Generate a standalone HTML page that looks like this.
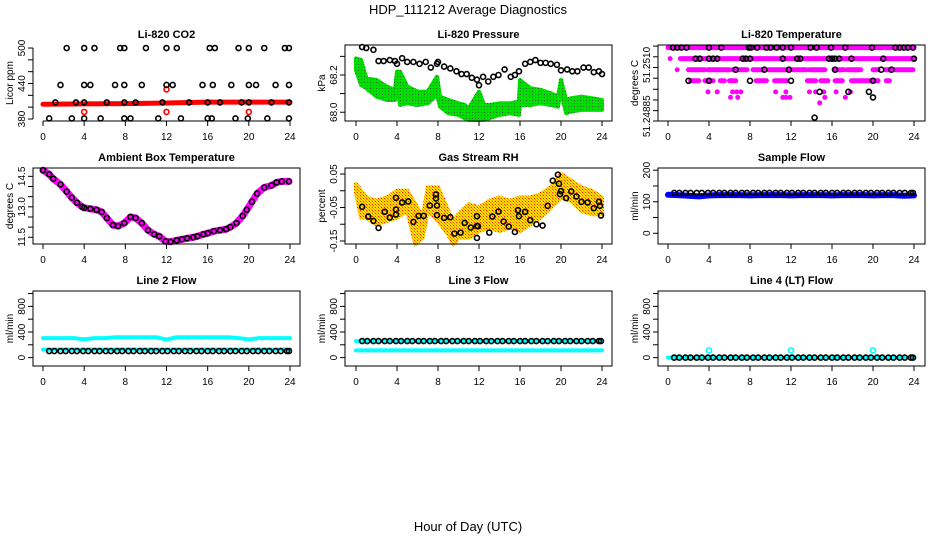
<!DOCTYPE html>
<html><head><meta charset="utf-8"><style>
html,body{margin:0;padding:0;background:#fff}
svg{display:block;font-family:"Liberation Sans",sans-serif}
</style></head><body>
<svg id="c" width="936" height="540" viewBox="0 0 936 540">
<defs>
<pattern id="gp" width="3" height="3" patternUnits="userSpaceOnUse"><rect width="3" height="3" fill="#00e000"/><rect x="1" y="1" width="1" height="1" fill="#306030"/></pattern>
<pattern id="op" width="3" height="3" patternUnits="userSpaceOnUse"><rect width="3" height="3" fill="#ffe000"/><rect width="1" height="1" fill="#ff2000"/><rect x="1" y="1" width="1" height="1" fill="#ff9000"/><rect x="2" y="2" width="1" height="1" fill="#ffa000"/></pattern>
</defs>
<text x="468" y="14" text-anchor="middle" font-size="13">HDP_111212  Average Diagnostics</text>
<text x="468" y="531" text-anchor="middle" font-size="13">Hour of Day (UTC)</text>
</svg>
<script>
// ---------- data ----------
const xTicks=[0,4,8,12,16,20,24];
// CO2
const co2RedH=[0,4,8,12,16,20,24];
const co2RedV=[405,405.5,406,407,408.5,408.5,408.5];
const co2OutH=[4,12,20,12];
const co2OutV=[392,392,392,430];
const co2H=[2.3,4,5,7.5,7.9,10,12,13,16.2,16.7,19,20,21.5,23.5,23.9,
 1.7,4,4.6,7,7.9,9.6,12,12.6,15.5,16.5,18.3,20,20.7,22.6,23.9,
 1.2,3.2,4,6.2,7.9,9,11.6,14.2,16,17.2,19.3,20,22.2,23.9,
 0.6,2.8,4,5.6,7.9,8.5,11.2,13.4,16,16.4,18.7,19.9,21.8,23.9];
const co2V=[500,500,500,500,500,500,500,500,500,500,500,500,500,500,500,
 437.5,437.5,437.5,437.5,437.5,437.5,437.5,437.5,437.5,437.5,437.5,437.5,437.5,437.5,437.5,
 408,408,408,408,408,408,408,408,408,408,408,408,408,408,
 381,381,381,381,381,381,381,381,381,381,381,381,381,381];
// Pressure
const presH=[0.6,1,1.7,2.2,2.7,3.3,3.8,4,4.5,5,5.6,6.2,6.8,7.3,7.9,8,8.6,9.2,9.8,10.3,10.8,11.3,11.8,12,12.4,12.9,13.4,13.9,14.5,15.1,15.5,15.9,16.5,17,17.5,18,18.5,19,19.6,20,20.6,21.1,21.6,22.2,22.7,23.2,23.7,24];
const presV=[68.35,68.345,68.335,68.275,68.275,68.28,68.275,68.26,68.29,68.27,68.27,68.26,68.27,68.24,68.26,68.27,68.245,68.235,68.22,68.205,68.205,68.185,68.175,68.145,68.19,68.165,68.19,68.2,68.23,68.19,68.2,68.22,68.26,68.27,68.28,68.265,68.265,68.26,68.255,68.225,68.23,68.22,68.22,68.24,68.24,68.215,68.22,68.205];
const presGH=[0,0.5,1,2,3,3.8,4,4.3,5,6,7,7.9,8.2,9,10,10.6,11,12,12.5,13,14,15,15.9,16,17,18,19,19.7,20,20.5,21,22,23,24];
const presGUp=[68.289,68.280,68.182,68.173,68.138,68.120,68.218,68.218,68.138,68.111,68.111,68.191,68.084,68.066,68.048,68.039,68.021,68.111,68.039,68.039,68.048,68.048,68.057,68.173,68.129,68.120,68.102,68.084,68.173,68.066,68.075,68.084,68.075,68.066];
const presGLo=[68.227,68.146,68.129,68.084,68.066,68.066,68.155,68.039,68.048,68.039,68.048,68.093,68.030,67.995,67.986,67.968,67.959,67.959,67.959,67.968,67.986,67.995,67.986,68.039,68.039,68.048,68.039,68.030,68.111,67.995,68.004,68.013,68.013,68.013];
// Li-820 temperature
const tLevels=[51.2512,51.2509,51.2506,51.2503,51.2500,51.24985,51.2497,51.2493];
const tTicks=[51.25124,51.25095,51.25066,51.25037,51.25007,51.24978,51.24949,51.24921];
const tLabV=[51.25073,51.24934];
const tLabT=["51.2510","51.24885"];
const tMagStart=[[0],[0.2,1.2],[0.9,2,3.9,6.3,8.3,9.8,12.2,13.8,16.2,17.5,20,21.2],[2.2,3.6,5.1,6,8.6,10.4,13.6,14.9,16.3,17.9,21.3],[3.9,4.8,6.3,6.7,7.1,10.5,11.5,13.8,14.4,15.2,16.4,17.8],[6.1,6.8,11.2,11.5,11.9,15.3,17.3],[14.8],[]];
const tMagEnd=[[24],[0.2,24],[0.9,3.6,6,7.7,9.3,11.9,13.5,15.3,17.2,18.8,20.5,23.9],[3,4.4,5.5,6.6,9.6,11.6,14.4,15.6,17,20.5,21.6],[3.9,4.8,6.3,6.7,7.1,10.5,11.5,13.8,14.4,15.2,16.4,17.8],[6.1,6.8,11.2,11.5,11.9,15.3,17.3],[14.8],[]];
const tBlkH=[[0.5,0.9,1.3,1.8,4,5.2,7.9,8.1,8.7,9.6,10,10.6,11.2,12,13.9,14.5,15.9,17.3,19.9,22.2,22.6,23,23.4,23.9],[2.7,3.1,4,4.4,4.8,7.3,7.6,8,11.2,12.6,12.9,15.7,16,16.3,16.7,17.9,21,24],[6.6,9.4,11.8,16.3,20.8,21.8],[2,4,8,12,20],[14.8,17.6,19.6],[20],[],[14.3]];
// Ambient
const ambH=[0,0.6,1,1.7,2.3,2.8,3.3,3.8,4,4.6,5.2,5.7,6.2,6.8,7.3,7.9,8.5,9,9.6,10.2,10.8,11.3,11.9,12.4,13,13.5,14,14.6,15,15.6,16,16.6,17.2,17.8,18.2,18.8,19.4,19.8,20.3,20.8,21.5,22.2,22.7,23.2,23.9];
const ambV=[14.8,14.6,14.38,14.1,13.75,13.45,13.2,13.0,12.95,12.9,12.85,12.75,12.45,12.1,12.05,12.2,12.5,12.45,12.2,11.85,11.65,11.55,11.3,11.28,11.35,11.4,11.45,11.5,11.55,11.65,11.7,11.8,11.85,11.9,12.0,12.2,12.55,12.85,13.25,13.65,13.95,14.05,14.2,14.25,14.25];
// Gas stream RH
const rhH=[0.6,1.2,1.7,2.2,2.8,3.3,3.9,3.9,3.9,4.5,5.1,5.6,6.1,6.6,7.2,7.8,7.8,7.9,7.9,8.6,9.2,9.6,10.2,10.6,11.2,11.8,11.8,11.9,11.8,13,13.3,13.9,14.4,14.9,15.5,15.8,15.9,16.5,17,17.6,18.2,18.7,19.2,19.7,19.8,19.9,20,20.5,21,21.5,22,22.6,23.2,23.7,23.8,23.9];
const rhV=[-0.048,-0.077,-0.09,-0.111,-0.063,-0.08,-0.056,-0.021,-0.071,-0.035,-0.032,-0.093,-0.075,-0.075,-0.044,-0.011,-0.023,-0.044,-0.073,-0.081,-0.079,-0.128,-0.125,-0.096,-0.11,-0.105,-0.076,-0.106,-0.141,-0.125,-0.077,-0.062,-0.092,-0.107,-0.123,-0.058,-0.076,-0.063,-0.088,-0.1,-0.104,-0.045,0.03,0.048,0.021,-0.01,-0.001,-0.022,-0.002,-0.017,-0.033,-0.035,-0.052,-0.033,-0.045,-0.074];
const rhBH=[0,0.5,1,2,3,4,5,5.8,6.5,7,8,9,9.5,10,11,12,13,14,15,16,17,18,19,20,21,22,23,24];
const rhBUp=[0.02,0.0,-0.02,-0.03,-0.02,0.0,0.0,-0.04,-0.08,0.01,0.01,-0.06,-0.09,-0.07,-0.04,-0.05,-0.03,-0.02,-0.03,-0.02,-0.02,-0.01,0.01,0.05,0.03,0.01,0.0,-0.02];
const rhBLo=[-0.005,-0.08,-0.08,-0.1,-0.09,-0.08,-0.06,-0.16,-0.14,-0.06,-0.09,-0.13,-0.16,-0.14,-0.14,-0.12,-0.11,-0.12,-0.11,-0.12,-0.1,-0.08,-0.05,-0.02,-0.03,-0.06,-0.07,-0.07];
// Flows
const flowT=[0.6,1.1,1.7,2.2,2.8,3.3,3.9,4.4,5,5.5,6.1,6.6,7.2,7.7,8.3,8.8,9.4,9.9,10.5,11,11.6,12.1,12.7,13.2,13.8,14.3,14.9,15.4,16,16.5,17.1,17.6,18.2,18.7,19.3,19.8,20.4,20.9,21.5,22,22.6,23.1,23.7,23.9];
const hourT=[0,1,2,3,4,5,6,7,8,9,10,11,12,13,14,15,16,17,18,19,20,21,22,23,24];
const sampleBlk=[128,128,128,128,128,128,128,128,128,128,128,128,128,128,128,128,128,128,128,128,128,128,128,128,128,128,128,128,128,128,128,128,128,128,128,128,128,128,128,128,128,128,128,128];
const sampleBlue=[122,121,119,117,120,121,121,121,120,121,121,121,120,121,121,121,120,121,121,121,120,121,121,119,120];
const line2Blk=[103,103,103,103,103,103,103,103,103,103,103,103,103,103,103,103,103,103,103,103,103,103,103,103,103,103,103,103,103,103,103,103,103,103,103,103,103,103,103,103,103,103,103,103];
const line2Hi=[305,305,305,305,285,305,305,318,318,318,318,318,282,318,318,318,318,318,318,305,285,305,305,305,305];
const line2Lo=[125,125,125,125,125,125,125,125,125,125,125,125,125,125,125,125,125,125,125,125,125,125,125,125,125];
const line3Blk=[258,258,258,258,258,258,258,258,258,258,258,258,258,258,258,258,258,258,258,258,258,258,258,258,258,258,258,258,258,258,258,258,258,258,258,258,258,258,258,258,258,258,258,258];
const line3Hi=[258,258,258,258,258,258,258,258,258,258,258,258,258,258,258,258,258,258,258,258,258,258,258,258,258];
const line3Lo=[113,113,113,113,113,113,113,113,113,113,113,113,113,113,113,113,113,113,113,113,113,113,113,113,113];
const line4Blk=[0,0,0,0,0,0,0,0,0,0,0,0,0,0,0,0,0,0,0,0,0,0,0,0,0,0,0,0,0,0,0,0,0,0,0,0,0,0,0,0,0,0,0,0];
const line4Cy=[0,0,0,0,0,0,0,0,0,0,0,0,0,0,0,0,0,0,0,0,0,0,0,0,0];
const line4OutH=[4,12,20];
const line4OutV=[113,113,113];

// ---------- layout ----------
const NS="http://www.w3.org/2000/svg";
const svg=document.getElementById('c');
const cols=[{l:33,r:300,x0:43,x24:290},{l:345,r:612,x0:356,x24:602},{l:658,r:925,x0:668,x24:914}];
const rows=[{t:45,b:121},{t:168,b:244},{t:291,b:366}];
function mk(tag,at,parent){const e=document.createElementNS(NS,tag);for(const k in at)e.setAttribute(k,at[k]);(parent||svg).appendChild(e);return e;}

function panel(name,col,row,ymin,ymax,ticks,labV,labT,title,ylab,box){
  const C=cols[col],R=rows[row];
  const g=mk('g',{});
  
  
  const sx=h=>C.x0+h*(C.x24-C.x0)/24;
  const sy=v=>R.t+(ymax-v)/(ymax-ymin)*(R.b-R.t);
  const plot=mk('g',{},g);
  
  
  const ax=mk('g',{stroke:'#000','stroke-width':1,fill:'none'},g);
  
  
  if(box){mk('rect',{x:C.l,y:R.t,width:C.r-C.l,height:R.b-R.t},ax);}
  else{mk('line',{x1:sx(0),x2:sx(24),y1:R.b,y2:R.b},ax);mk('line',{x1:C.l,x2:C.l,y1:sy(ticks[0]),y2:sy(ticks[ticks.length-1])},ax);}
  xTicks.forEach(h=>{
    mk('line',{x1:sx(h),x2:sx(h),y1:R.b,y2:R.b+5},ax);
    const t=mk('text',{x:sx(h),y:R.b+19,'text-anchor':'middle','font-size':10,fill:'#000',stroke:'none'},g);
    
    
    t.textContent=h;
  });
  ticks.forEach(v=>{mk('line',{x1:C.l-5,x2:C.l,y1:sy(v),y2:sy(v)},ax);});
  labV.forEach((v,i)=>{
    const t=mk('text',{transform:`translate(${C.l-8},${sy(v)}) rotate(-90)`,'text-anchor':'middle','font-size':10},g);
    
    
    t.textContent=labT[i];
  });
  const tt=mk('text',{x:(C.l+C.r)/2,y:R.t-7,'text-anchor':'middle','font-size':11,'font-weight':'bold'},g);
  
  
  tt.textContent=title;
  const yl=mk('text',{transform:`translate(${C.l-20},${(R.t+R.b)/2}) rotate(-90)`,'text-anchor':'middle','font-size':10},g);
  
  
  yl.textContent=ylab;
  return {sx,sy,plot};
}
function pts(P,H,V,color,nm){
  const g=mk('g',{fill:'none',stroke:color,'stroke-width':1.6},P.plot);
  
  
  H.forEach((h,i)=>{const c=mk('circle',{cx:P.sx(h),cy:P.sy(V[i]),r:2.5},g);
    
    });
}
function strip(P,H,V,color,w,nm){
  const l=mk('polyline',{points:H.map((h,i)=>P.sx(h)+','+P.sy(V[i])).join(' '),fill:'none',stroke:color,'stroke-width':w,'stroke-linejoin':'round','stroke-linecap':'round'},P.plot);
  
  
}
function band(P,H,U,L,fill,nm){
  const a=H.map((h,i)=>P.sx(h)+','+P.sy(U[i]));
  const b=H.map((h,i)=>P.sx(h)+','+P.sy(L[i])).reverse();
  const p=mk('polygon',{points:a.concat(b).join(' '),fill:fill,stroke:fill,'stroke-width':4,'stroke-linejoin':'round'},P.plot);
  
  
}

// CO2
let P=panel('co2',0,0,376.6,505.1,[380,400,420,440,460,480,500],[380,440,500],['380','440','500'],'Li-820 CO2','Licor ppm',false);
strip(P,co2RedH,co2RedV,'#ff0000',5,'co2-red-series');
pts(P,co2OutH,co2OutV,'#ff0000','co2-red-outliers');
pts(P,co2H,co2V,'#000','co2-black-series');
// Pressure
P=panel('pressure',1,0,67.953,68.361,[68.0,68.1,68.2,68.3],[68.0,68.2],['68.0','68.2'],'Li-820 Pressure','kPa',true);
band(P,presGH,presGUp,presGLo,'url(#gp)','pressure-green-series');
pts(P,presH,presV,'#000','pressure-black-series');
// Temperature
P=panel('temperature',2,0,51.24921,51.25127,tTicks,tLabV,tLabT,'Li-820 Temperature','degrees C',true);
tMagStart.forEach((arr,li)=>{arr.forEach((s,k)=>{
  const e=tMagEnd[li][k];
  const l=mk('line',{x1:P.sx(s),x2:P.sx(e),y1:P.sy(tLevels[li]),y2:P.sy(tLevels[li]),stroke:'#ff00ff','stroke-width':5,'stroke-linecap':'round'},P.plot);
  
  
});});
tBlkH.forEach((arr,li)=>{pts(P,arr,arr.map(()=>tLevels[li]),'#000','temperature-black-series');});
// Ambient
P=panel('ambient',0,1,11.17,14.91,[11.5,12,12.5,13,13.5,14,14.5],[11.5,13,14.5],['11.5','13.0','14.5'],'Ambient Box Temperature','degrees C',true);
strip(P,ambH,ambV,'#ff00ff',7,'ambient-magenta-series');
pts(P,ambH,ambV,'#000','ambient-black-series');
// RH
P=panel('rh',1,1,-0.159,0.068,[-0.15,-0.1,-0.05,0,0.05],[-0.15,-0.05,0.05],['-0.15','-0.05','0.05'],'Gas Stream RH','percent',true);
band(P,rhBH,rhBUp,rhBLo,'url(#op)','rh-orange-series');
pts(P,rhH,rhV,'#000','rh-black-series');
// Sample flow
P=panel('sample-flow',2,1,-34,207,[0,50,100,150,200],[0,100,200],['0','100','200'],'Sample Flow','ml/min',true);
strip(P,hourT,sampleBlue,'#0000ff',6,'sample-flow-blue-series');
pts(P,flowT,sampleBlk,'#000','sample-flow-black-series');
// Line 2
const fT=[0,200,400,600,800,1000],fLV=[0,400,800],fLT=['0','400','800'];
P=panel('line2-flow',0,2,-131,1040,fT,fLV,fLT,'Line 2 Flow','ml/min',true);
strip(P,hourT,line2Hi,'#00ffff',4,'line2-cyan-upper');
strip(P,hourT,line2Lo,'#00ffff',4,'line2-cyan-lower');
pts(P,flowT,line2Blk,'#000','line2-black-series');
// Line 3
P=panel('line3-flow',1,2,-131,1040,fT,fLV,fLT,'Line 3 Flow','ml/min',true);
strip(P,hourT,line3Hi,'#00ffff',4,'line3-cyan-upper');
strip(P,hourT,line3Lo,'#00ffff',4,'line3-cyan-lower');
pts(P,flowT,line3Blk,'#000','line3-black-series');
// Line 4
P=panel('line4-flow',2,2,-131,1040,fT,fLV,fLT,'Line 4 (LT) Flow','ml/min',true);
strip(P,hourT,line4Cy,'#00ffff',4,'line4-cyan-series');
pts(P,line4OutH,line4OutV,'#00ffff','line4-cyan-outliers');
pts(P,flowT,line4Blk,'#000','line4-black-series');
</script>
</body></html>
